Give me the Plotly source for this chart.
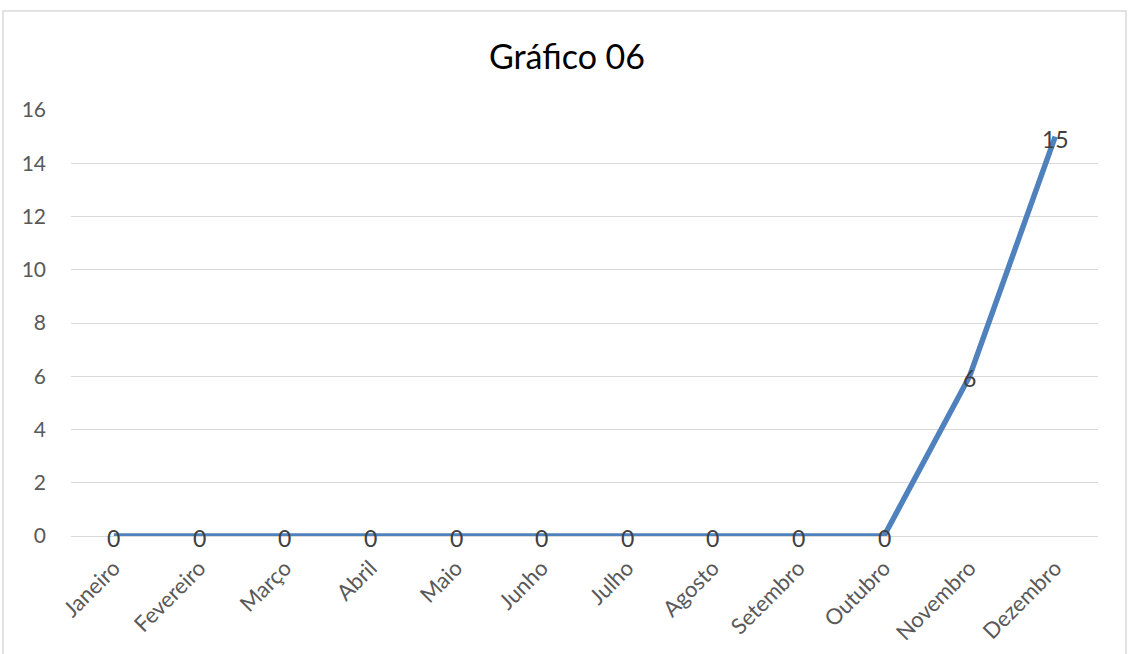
import plotly.graph_objects as go

months = ["Janeiro", "Fevereiro", "Março", "Abril", "Maio", "Junho", "Julho",
          "Agosto", "Setembro", "Outubro", "Novembro", "Dezembro"]
values = [0, 0, 0, 0, 0, 0, 0, 0, 0, 0, 6, 15]
y_ticks = [0, 2, 4, 6, 8, 10, 12, 14, 16]
title_text = "Gráfico 06"

W, H = 1131, 654
L, R, T, B = 71, 33, 110, 118
pw, ph = W - L - R, H - T - B
FONT = "Lato, Open Sans, sans-serif"

fig = go.Figure()
fig.add_trace(go.Scatter(
    x=months, y=values, mode="lines",
    line=dict(color="#4F81BD", width=5.5),
    cliponaxis=False, hoverinfo="x+y",
))
# data labels, centred on each point (nudged a little down like the reference)
for m, v in zip(months, values):
    fig.add_annotation(x=m, y=v, text=str(v), showarrow=False,
                       xanchor="center", yanchor="middle", yshift=-2,
                       font=dict(family=FONT, size=23, color="#404040"))

# chart-area border (gray frame)
fig.add_shape(type="rect", xref="paper", yref="paper",
              x0=(3 - L) / pw, x1=(1126 - L) / pw,
              y0=-0.35, y1=(H - B - 11) / ph,
              line=dict(color="#D9D9D9", width=1.5), fillcolor="rgba(0,0,0,0)", layer="below")

fig.update_layout(
    width=W, height=H,
    margin=dict(l=L, r=R, t=T, b=B, autoexpand=False),
    paper_bgcolor="white", plot_bgcolor="white",
    showlegend=False,
    title=dict(text=title_text, x=567 / W, xanchor="center",
               y=1 - 57 / H, yanchor="middle",
               font=dict(family=FONT, size=34, color="#000000")),
    font=dict(family=FONT, size=20, color="#595959"),
)
fig.update_xaxes(range=[-0.5, 11.5], tickangle=-45, showgrid=False, showline=False,
                 automargin=False,
                 ticks="", ticklabelstandoff=14, tickfont=dict(family=FONT, size=22, color="#595959"))
fig.update_yaxes(range=[0, 16], tickvals=y_ticks, showgrid=True, gridcolor="#D9D9D9",
                 gridwidth=1, zeroline=True, zerolinecolor="#D9D9D9", zerolinewidth=1,
                 automargin=False,
                 showline=False, ticks="", ticklabelstandoff=24,
                 tickfont=dict(family=FONT, size=21, color="#595959"))

fig.write_html("out.html")
